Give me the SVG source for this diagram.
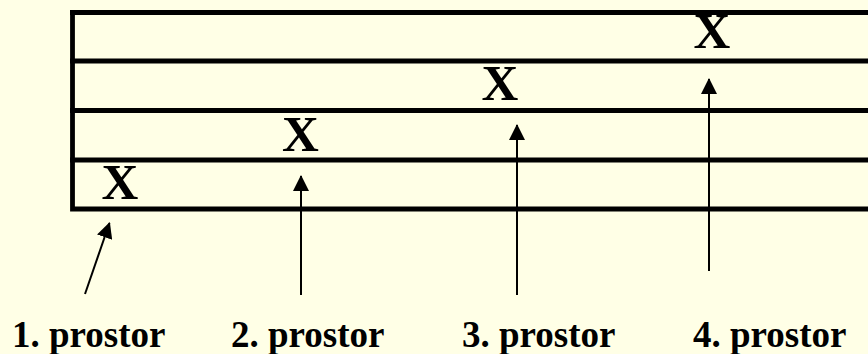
<svg xmlns="http://www.w3.org/2000/svg" width="868" height="354" viewBox="0 0 868 354">
  <defs>
    <marker id="ah" markerWidth="8" markerHeight="8" refX="7.5" refY="4" orient="auto" markerUnits="strokeWidth" viewBox="0 0 8 8">
      <path d="M0,0 L8,4 L0,8 Z" fill="#000"/>
    </marker>
    <style>
      .grid { stroke: #000; stroke-width: 4.8; fill: none; }
      .x { font-family: "Liberation Serif", "Times New Roman", serif; font-weight: bold; font-size: 51px; fill: #000; text-anchor: middle; }
      .lbl { font-family: "Liberation Serif", "Times New Roman", serif; font-weight: bold; font-size: 37px; fill: #000; }
      .arr { stroke: #000; stroke-width: 2; fill: none; marker-end: url(#ah); }
    </style>
  </defs>
  <rect width="868" height="354" fill="#FFFFE6"/>
  <g id="table">
    <path class="grid" d="M72.5,10.5 V209 H868"/>
    <line class="grid" x1="70" y1="12.5" x2="868" y2="12.5"/>
    <line class="grid" x1="70" y1="61" x2="868" y2="61"/>
    <line class="grid" x1="70" y1="110.5" x2="868" y2="110.5"/>
    <line class="grid" x1="70" y1="160" x2="868" y2="160"/>
  </g>
  <g id="marks">
    <text class="x" x="120" y="199">X</text>
    <text class="x" x="300.5" y="151">X</text>
    <text class="x" x="500" y="100">X</text>
    <text class="x" x="712" y="48">X</text>
  </g>
  <g id="connectors">
    <line class="arr" x1="85" y1="294" x2="109.5" y2="223"/>
    <line class="arr" x1="301" y1="295" x2="301" y2="176"/>
    <line class="arr" x1="517" y1="295" x2="517" y2="125"/>
    <line class="arr" x1="709" y1="271" x2="709" y2="79"/>
  </g>
  <g id="labels">
    <text class="lbl" x="12" y="347">1. prostor</text>
    <text class="lbl" x="231" y="347">2. prostor</text>
    <text class="lbl" x="462" y="347">3. prostor</text>
    <text class="lbl" x="693" y="347">4. prostor</text>
  </g>
</svg>
